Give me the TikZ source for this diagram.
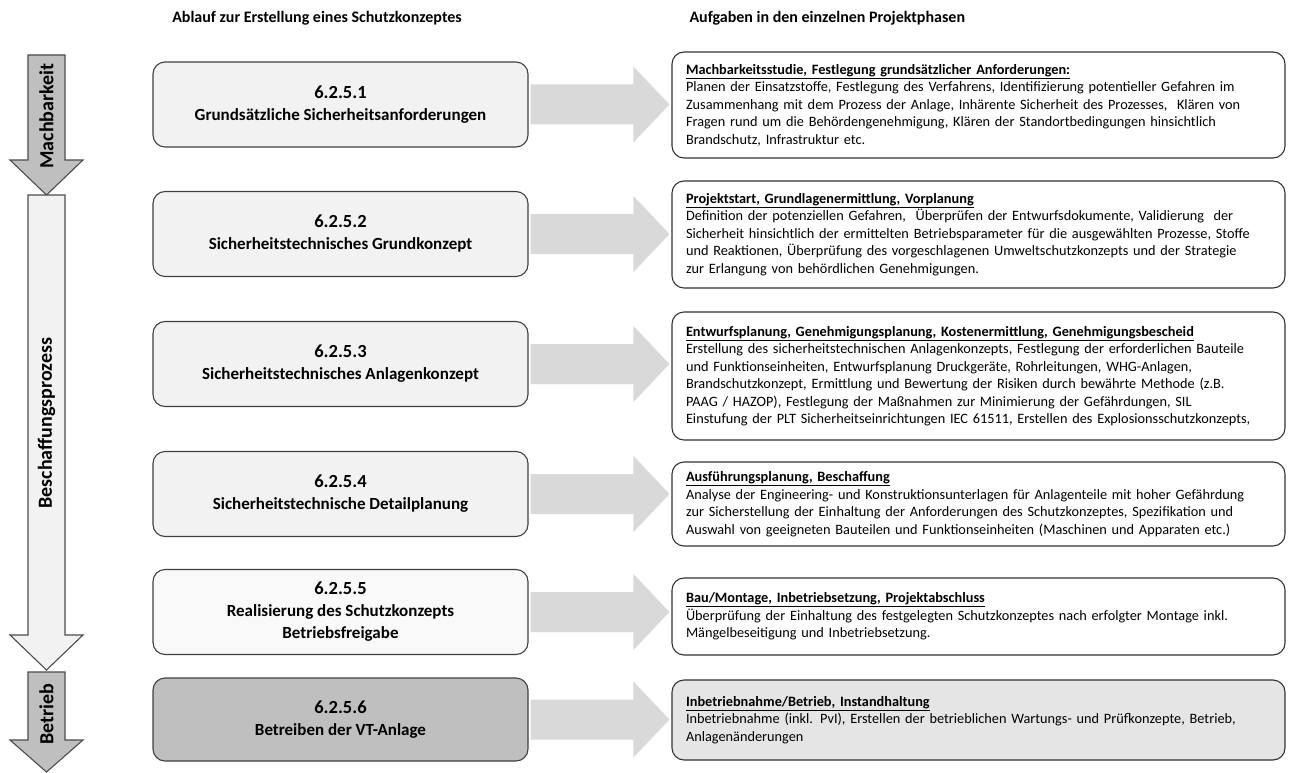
\documentclass[tikz,border=0pt]{standalone}
\usepackage{fontspec}
\setmainfont{Carlito}
\usetikzlibrary{calc}

\begin{document}
\begin{tikzpicture}[x=1pt,y=-1pt]
\tikzstyle{lbox}=[draw=black!75, line width=1.1pt, rounded corners=12pt, minimum width=375pt, minimum height=85pt, align=center, fill=gray!10, font=\bfseries\fontsize{17}{22}\selectfont]
\tikzstyle{rbox}=[draw=black!80, line width=1.1pt, rounded corners=12pt, fill=white, text width=585pt, inner xsep=14pt, align=left, font=\fontsize{14.3}{17.5}\selectfont]
\tikzstyle{flow}=[fill=gray!30]
\tikzstyle{phase}=[draw=black!70, line width=1.1pt]
\tikzstyle{phaselabel}=[rotate=90, font=\bfseries\fontsize{20}{24}\selectfont]
\useasboundingbox (0,0) rectangle (1295,773);

% column titles
\node (head1) [font=\bfseries\fontsize{16}{19}\selectfont] at (317,18) {Ablauf zur Erstellung eines Schutzkonzeptes};
\node (head2) [font=\bfseries\fontsize{16}{19}\selectfont, anchor=west] at (686,18) {Aufgaben in den einzelnen Projektphasen};

% phases on the left
\draw[phase, fill=gray!50] (28,55) -- (65,55) -- (65,160) -- (83,160) -- (46.5,195) -- (10,160) -- (28,160) -- cycle;
\draw[phase, fill=gray!10] (28,195) -- (65,195) -- (65,635) -- (83,635) -- (46.5,670) -- (10,635) -- (28,635) -- cycle;
\draw[phase, fill=gray!50] (28,672) -- (65,672) -- (65,740) -- (83,740) -- (46.5,772) -- (10,740) -- (28,740) -- cycle;
\node (mach) [phaselabel] at (46.5,116) {Machbarkeit};
\node (besch) [phaselabel] at (46.5,423) {Beschaffungsprozess};
\node (betr) [phaselabel] at (46.5,714) {Betrieb};

% steps
\node (l1) [lbox] at (340.5,104.5) {{\fontsize{18.5}{22}\selectfont 6.2.5.1}\\Grundsätzliche Sicherheitsanforderungen};
\node (l2) [lbox] at (340.5,234) {{\fontsize{18.5}{22}\selectfont 6.2.5.2}\\Sicherheitstechnisches Grundkonzept};
\node (l3) [lbox] at (340.5,364) {{\fontsize{18.5}{22}\selectfont 6.2.5.3}\\Sicherheitstechnisches Anlagenkonzept};
\node (l4) [lbox] at (340.5,494) {{\fontsize{18.5}{22}\selectfont 6.2.5.4}\\Sicherheitstechnische Detailplanung};
\node (l5) [lbox, fill=gray!5] at (340.5,612) {{\fontsize{18.5}{22}\selectfont 6.2.5.5}\\Realisierung des Schutzkonzepts\\Betriebsfreigabe};
\node (l6) [lbox, fill=gray!50, minimum height=83pt] at (340.5,719.5) {{\fontsize{18.5}{22}\selectfont 6.2.5.6}\\Betreiben der VT-Anlage};

% tasks
\node (r1) [rbox, minimum height=106pt] at (978.5,105) {\textbf{\underline{Machbarkeitsstudie, Festlegung grundsätzlicher Anforderungen:}}\\
Planen der Einsatzstoffe, Festlegung des Verfahrens, Identifizierung potentieller Gefahren im\\
Zusammenhang mit dem Prozess der Anlage, Inhärente Sicherheit des Prozesses,~ Klären von\\
Fragen rund um die Behördengenehmigung, Klären der Standortbedingungen hinsichtlich\\
Brandschutz, Infrastruktur etc.};
\node (r2) [rbox, minimum height=107pt] at (978.5,234.5) {\textbf{\underline{Projektstart, Grundlagenermittlung, Vorplanung}}\\
Definition der potenziellen Gefahren,~ Überprüfen der Entwurfsdokumente, Validierung~ der\\
Sicherheit hinsichtlich der ermittelten Betriebsparameter für die ausgewählten Prozesse, Stoffe\\
und Reaktionen, Überprüfung des vorgeschlagenen Umweltschutzkonzepts und der Strategie\\
zur Erlangung von behördlichen Genehmigungen.};
\node (r3) [rbox, minimum height=128pt] at (978.5,376) {\textbf{\underline{Entwurfsplanung, Genehmigungsplanung, Kostenermittlung, Genehmigungsbescheid}}\\
Erstellung des sicherheitstechnischen Anlagenkonzepts, Festlegung der erforderlichen Bauteile\\
und Funktionseinheiten, Entwurfsplanung Druckgeräte, Rohrleitungen, WHG-Anlagen,\\
Brandschutzkonzept, Ermittlung und Bewertung der Risiken durch bewährte Methode (z.B.\\
PAAG / HAZOP), Festlegung der Maßnahmen zur Minimierung der Gefährdungen, SIL\\
Einstufung der PLT Sicherheitseinrichtungen IEC 61511, Erstellen des Explosionsschutzkonzepts,};
\node (r4) [rbox, minimum height=84pt] at (978.5,504) {\textbf{\underline{Ausführungsplanung, Beschaffung}}\\
Analyse der Engineering- und Konstruktionsunterlagen für Anlagenteile mit hoher Gefährdung\\
zur Sicherstellung der Einhaltung der Anforderungen des Schutzkonzeptes, Spezifikation und\\
Auswahl von geeigneten Bauteilen und Funktionseinheiten (Maschinen und Apparaten etc.)};
\node (r5) [rbox, minimum height=77pt] at (978.5,616.5) {\textbf{\underline{Bau/Montage, Inbetriebsetzung, Projektabschluss}}\\
Überprüfung der Einhaltung des festgelegten Schutzkonzeptes nach erfolgter Montage inkl.\\
Mängelbeseitigung und Inbetriebsetzung.};
\node (r6) [rbox, minimum height=80pt, fill=gray!20] at (978.5,720) {\textbf{\underline{Inbetriebnahme/Betrieb, Instandhaltung}}\\
Inbetriebnahme (inkl. PvI), Erstellen der betrieblichen Wartungs- und Prüfkonzepte, Betrieb,\\
Anlagenänderungen};

% grey arrows step -> task
\foreach \i in {1,...,6}
  \fill[flow] ($(l\i.east)+(2,-20)$) -- ($(l\i.east -| r\i.west)+(-38,-20)$) -- ($(l\i.east -| r\i.west)+(-38,-38)$)
    -- ($(l\i.east -| r\i.west)+(-2,0)$) -- ($(l\i.east -| r\i.west)+(-38,38)$) -- ($(l\i.east -| r\i.west)+(-38,20)$)
    -- ($(l\i.east)+(2,20)$) -- cycle;
\end{tikzpicture}
\end{document}
